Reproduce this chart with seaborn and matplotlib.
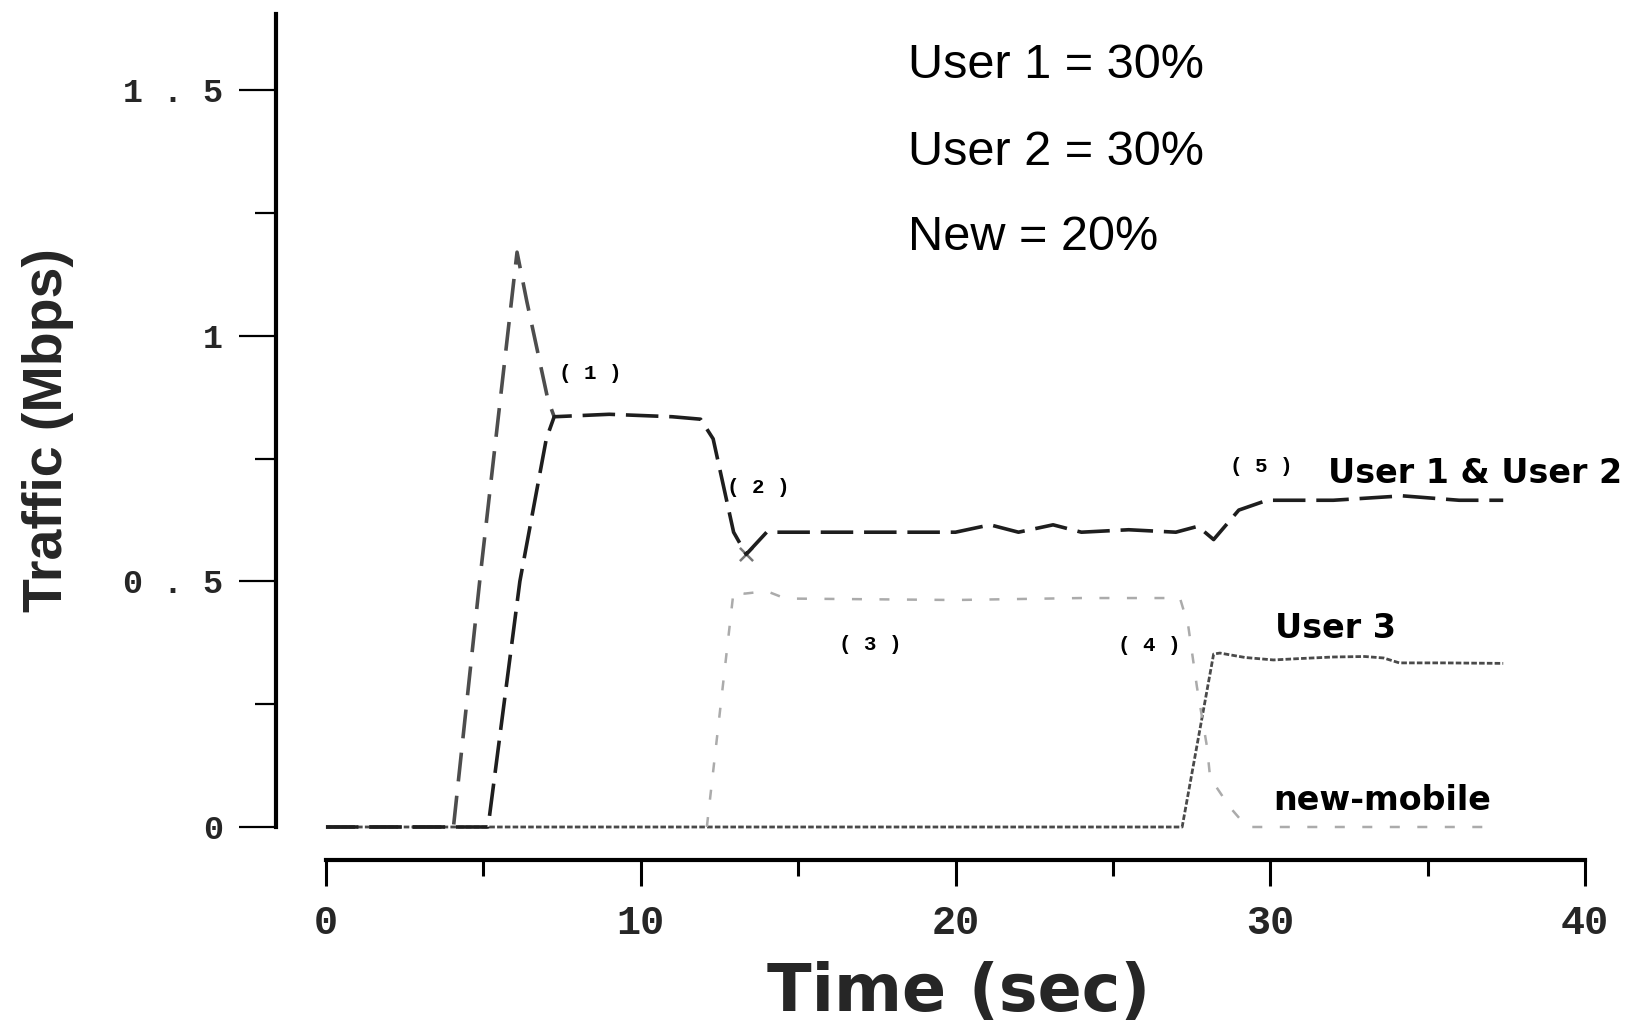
import matplotlib
matplotlib.use("Agg")
import matplotlib.pyplot as plt
from matplotlib import font_manager
import seaborn as sns

# traffic traces (time in sec, traffic in Mbps)
user1_t = [0, 4.05, 4.9, 6.07, 6.38, 7.05, 7.25]
user1_v = [0, 0, 0.51, 1.17, 1.07, 0.87, 0.835]

user2_t = [0, 5.15, 6.16, 7.0, 7.25, 9.0, 11.0, 11.9, 12.3, 12.95, 13.35, 14.0,
           16.0, 18.0, 20.0, 21.1, 22.0, 23.1, 24.0, 25.5, 27.0, 27.7, 28.2,
           29.0, 29.9, 32.0, 34.2, 36.0, 37.4]
user2_v = [0, 0, 0.50, 0.79, 0.835, 0.84, 0.835, 0.83, 0.79, 0.60, 0.555, 0.60,
           0.60, 0.60, 0.60, 0.615, 0.60, 0.615, 0.60, 0.605, 0.60, 0.612, 0.585,
           0.645, 0.665, 0.665, 0.674, 0.665, 0.665]

new_t = [12.1, 12.95, 13.3, 14.0, 14.6, 20.0, 24.0, 27.13, 27.39, 27.67, 27.99,
         28.09, 28.72, 29.26, 37.2]
new_v = [0, 0.48, 0.475, 0.48, 0.465, 0.462, 0.466, 0.466, 0.411, 0.285, 0.163,
         0.10, 0.04, 0, 0]

user3_t = [0, 27.2, 28.2, 28.4, 29.2, 30.1, 31.0, 32.0, 33.0, 33.6, 34.1, 35.5, 37.4]
user3_v = [0, 0, 0.352, 0.354, 0.345, 0.34, 0.343, 0.346, 0.347, 0.344, 0.334, 0.334, 0.333]

cross_t = [13.35]
cross_v = [0.555]

x_ticks = [0, 10, 20, 30, 40]
x_tick_labels = ["0", "10", "20", "30", "40"]
x_minor = [5, 15, 25, 35]
y_ticks = [0, 0.5, 1, 1.5]
y_tick_labels = ["0", "0 . 5", "1", "1 . 5"]
y_minor = [0.25, 0.75, 1.25]

shares = ["User 1 = 30%", "User 2 = 30%", "New = 20%"]
share_y = [1.5245, 1.3475, 1.1745]

curve_labels = ["User 1 & User 2", "User 3", "new-mobile"]
curve_label_xy = [(31.83, 0.700), (30.15, 0.385), (30.09, 0.035)]

events = ["( 1 )", "( 2 )", "( 3 )", "( 4 )", "( 5 )"]
event_xy = [(8.39, 0.924), (13.73, 0.69), (17.28, 0.372), (26.15, 0.37), (29.7, 0.733)]


def main() -> None:
    sns.set_theme(style="ticks")
    plt.rcParams["font.family"] = ["Liberation Sans", "DejaVu Sans"]

    installed = {f.name for f in font_manager.fontManager.ttflist}
    if "Liberation Sans Narrow" in installed:
        ylabel_font, ylabel_size = "Liberation Sans Narrow", 48
    else:
        ylabel_font, ylabel_size = "Liberation Sans", 40

    fig = plt.figure(figsize=(16.35, 10.22), dpi=100)
    ax = fig.add_axes([0.1688, 0.1585, 0.8122, 0.8366])

    sns.lineplot(x=user3_t, y=user3_v, ax=ax, color="#4a4a4a", linewidth=2.0,
                 linestyle=(0, (2, 0.8)), estimator=None, sort=False)
    sns.lineplot(x=new_t, y=new_v, ax=ax, color="#ababab", linewidth=1.8,
                 linestyle=(0, (4, 7)), estimator=None, sort=False)
    sns.lineplot(x=user1_t, y=user1_v, ax=ax, color="#4d4d4d", linewidth=2.6,
                 linestyle=(0, (8, 4)), estimator=None, sort=False)
    sns.lineplot(x=user2_t, y=user2_v, ax=ax, color="#1e1e1e", linewidth=2.6,
                 linestyle=(0, (9, 3)), estimator=None, sort=False)
    sns.scatterplot(x=cross_t, y=cross_v, ax=ax, marker="x", s=90, color="#777777",
                    linewidth=1.8)

    ax.set_xlim(-1.588, 40.6)
    ax.set_ylim(-0.0672, 1.673)

    ax.spines[["top", "right"]].set_visible(False)
    ax.spines["left"].set_bounds(0, 1.655)
    ax.spines["left"].set_linewidth(3.0)
    ax.spines["left"].set_color("black")
    ax.spines["bottom"].set_bounds(0, 40)
    ax.spines["bottom"].set_linewidth(3.0)
    ax.spines["bottom"].set_color("black")

    mono = dict(fontfamily="Liberation Mono", fontweight="bold")
    ax.set_xticks(x_ticks, labels=x_tick_labels, fontsize=29, **mono)
    ax.set_xticks(x_minor, minor=True)
    ax.set_yticks(y_ticks, labels=y_tick_labels, fontsize=24, **mono)
    ax.set_yticks(y_minor, minor=True)
    ax.tick_params(axis="x", which="major", direction="out", length=19, width=2.2,
                   pad=13, color="black")
    ax.tick_params(axis="x", which="minor", direction="out", length=11.5, width=2.2,
                   color="black")
    ax.tick_params(axis="y", which="major", direction="out", length=27, width=1.6,
                   pad=11, color="black")
    ax.tick_params(axis="y", which="minor", direction="out", length=15, width=1.6,
                   color="black")
    ax.set_xlabel("")
    ax.set_ylabel("")

    for text, y in zip(shares, share_y):
        ax.text(18.49, y, text, fontsize=35, va="baseline", ha="left", color="black")

    for text, (x, y) in zip(curve_labels, curve_label_xy):
        ax.text(x, y, text, fontsize=24, fontweight="bold", fontfamily="DejaVu Sans",
                va="baseline", ha="left", color="black")

    for text, (x, y) in zip(events, event_xy):
        ax.text(x, y, text, fontsize=15, va="center", ha="center", color="black", **mono)

    fig.text(0.5865, 0.0284, "Time (sec)", fontsize=47, fontweight="bold",
             fontfamily="DejaVu Sans", ha="center", va="center")
    fig.text(0.0294, 0.579, "Traffic (Mbps)", fontsize=ylabel_size, fontweight="bold",
             fontfamily=ylabel_font, rotation=90, ha="center", va="center")

    fig.savefig("out.png", dpi=100)
    plt.close(fig)


if __name__ == "__main__":
    main()
